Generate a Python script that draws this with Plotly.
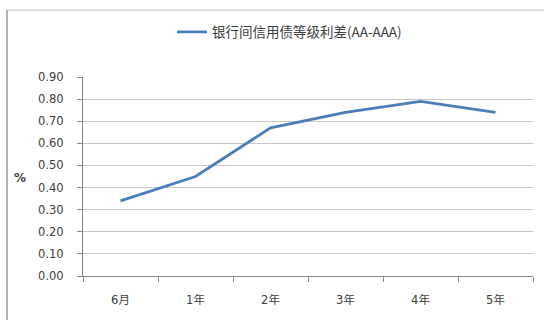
import plotly.graph_objects as go

# Tenors and AA vs AAA interbank credit spread (%)
tenors = ["6月", "1年", "2年", "3年", "4年", "5年"]
spread = [0.34, 0.45, 0.67, 0.74, 0.79, 0.74]
y_ticks = [0.0, 0.1, 0.2, 0.3, 0.4, 0.5, 0.6, 0.7, 0.8, 0.9]
series_name = "银行间信用债等级利差(AA-AAA)"

W, H = 544, 320
L, R, T, B = 83, 11, 77, 44
pw, ph = W - L - R, H - T - B

fig = go.Figure(
    go.Scatter(
        x=tenors,
        y=spread,
        mode="lines",
        name=series_name,
        line=dict(color="#4a7ebb", width=2.75),
        showlegend=True,
    )
)

tick_font = dict(family="DejaVu Sans, Noto Sans CJK SC", size=11.5, color="#404040")

fig.update_layout(
    width=W,
    height=H,
    margin=dict(l=L, r=R, t=T, b=B, pad=0),
    paper_bgcolor="white",
    plot_bgcolor="white",
    font=dict(family="Noto Sans CJK SC, DejaVu Sans", color="#404040"),
    showlegend=True,
    legend=dict(
        orientation="h",
        x=(172 - L) / pw,
        xanchor="left",
        y=1 + (T - 32) / ph,
        yanchor="middle",
        font=dict(family="Noto Sans CJK SC, DejaVu Sans", size=13.5, color="#404040"),
        bgcolor="rgba(0,0,0,0)",
        itemwidth=30,
    ),
    xaxis=dict(
        type="category",
        range=[-0.5, len(tenors) - 0.5],
        showgrid=False,
        showline=True,
        linecolor="#868686",
        linewidth=1,
        ticks="outside",
        ticklen=5,
        tickcolor="#868686",
        tickson="boundaries",
        tickfont=tick_font,
        ticklabelstandoff=13,
        fixedrange=True,
    ),
    yaxis=dict(
        range=[0, 0.9],
        tickvals=y_ticks,
        tickformat=".2f",
        showgrid=True,
        gridcolor="#c8c8c8",
        gridwidth=1,
        showline=True,
        linecolor="#868686",
        linewidth=1,
        ticks="outside",
        ticklen=5,
        tickcolor="#868686",
        tickfont=tick_font,
        ticklabelstandoff=11,
        zeroline=False,
        fixedrange=True,
    ),
    annotations=[
        dict(
            text="<b>%</b>",
            xref="paper",
            yref="paper",
            x=(20 - L) / pw,
            y=1 - (178 - T) / ph,
            xanchor="center",
            yanchor="middle",
            showarrow=False,
            font=dict(family="DejaVu Sans", size=12, color="#404040"),
        )
    ],
    shapes=[
        # chart frame (left and top edges)
        dict(
            type="line",
            xref="paper",
            yref="paper",
            x0=(7 - L) / pw,
            x1=(7 - L) / pw,
            y0=1 + (T - 10) / ph,
            y1=-(B + 5) / ph,
            line=dict(color="#9a9a9a", width=1.5),
        ),
        dict(
            type="line",
            xref="paper",
            yref="paper",
            x0=(7 - L) / pw,
            x1=(W + 5 - L) / pw,
            y0=1 + (T - 10) / ph,
            y1=1 + (T - 10) / ph,
            line=dict(color="#c0c0c0", width=1),
        ),
    ],
)

fig.write_html("out.html")
